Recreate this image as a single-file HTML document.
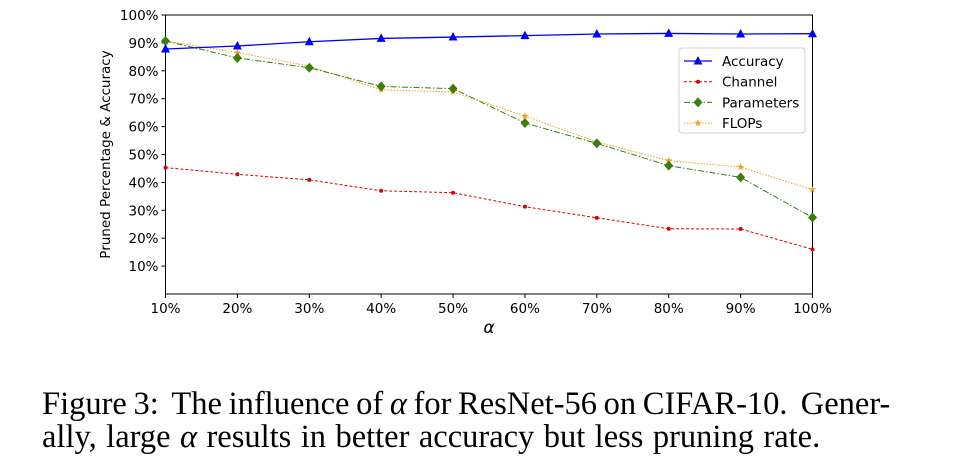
<!DOCTYPE html>
<html><head><meta charset="utf-8"><style>
body{margin:0;background:#fff;width:965px;height:459px;overflow:hidden}
svg{position:absolute;left:0;top:0}
.cap{position:absolute;left:42px;font-family:"Liberation Serif",serif;font-size:32.5px;color:#000;white-space:nowrap}
</style></head><body>
<svg id="chart" width="965" height="360" font-family="DejaVu Sans, Liberation Sans, sans-serif"></svg>
<div class="cap" style="top:386px;word-spacing:-1.5px">Figure 3:&nbsp; The influence of <i>α</i> for ResNet-56 on CIFAR-10.&nbsp; Gener-</div>
<div class="cap" style="top:419px;word-spacing:1.3px">ally, large <i>α</i> results in better accuracy but less pruning rate.</div>
<script>
const categories=["10%","20%","30%","40%","50%","60%","70%","80%","90%","100%"];
const accuracy=[87.8,88.9,90.4,91.6,92.1,92.6,93.2,93.4,93.2,93.3];
const channel=[45.3,42.9,40.9,37.0,36.3,31.3,27.3,23.4,23.3,16.0];
const parameters=[90.7,84.6,81.1,74.4,73.6,61.3,54.0,46.0,41.8,27.4];
const flops=[90.7,86.5,81.7,73.2,72.4,63.8,54.5,47.8,45.5,37.4];
const yTicks=[10,20,30,40,50,60,70,80,90,100];
const NS="http://www.w3.org/2000/svg";
const svg=document.getElementById('chart');
const L=165.5,R=812.5,T=15,B=294;
const x=i=>L+(R-L)*i/(categories.length-1);
const y=v=>B-(B-T)*v/100;
function mk(tag,attrs,parent){const e=document.createElementNS(NS,tag);for(const k in attrs)e.setAttribute(k,attrs[k]);(parent||svg).appendChild(e);return e;}
const frame=mk('rect',{x:L,y:T,width:R-L,height:B-T,fill:'none',stroke:'#000','stroke-width':1});


yTicks.forEach(v=>{
  const t=mk('line',{x1:L-4,x2:L,y1:y(v),y2:y(v),stroke:'#000'});
  
  
  const l=mk('text',{x:L-7,y:y(v)+5,'text-anchor':'end','font-size':13.5});
  l.textContent=v+'%';
  
  
});
categories.forEach((c,i)=>{
  const t=mk('line',{x1:x(i),x2:x(i),y1:B,y2:B+4,stroke:'#000'});
  
  
  const l=mk('text',{x:x(i),y:B+19,'text-anchor':'middle','font-size':13.5});
  l.textContent=c;
  
  
});
const yt=mk('text',{x:0,y:0,'text-anchor':'middle','font-size':13.5,transform:`translate(110,${(T+B)/2}) rotate(-90)`});
yt.textContent='Pruned Percentage & Accuracy';


const xt=mk('text',{x:(L+R)/2,y:333,'text-anchor':'middle','font-size':17,'font-style':'italic'});
xt.textContent='α';


function marker(type,cx,cy,color,g){
  if(type==='tri')return mk('polygon',{points:`${cx},${cy-5} ${cx-4.5},${cy+3.5} ${cx+4.5},${cy+3.5}`,fill:color},g);
  if(type==='dot')return mk('circle',{cx,cy,r:2,fill:color},g);
  if(type==='dia')return mk('polygon',{points:`${cx},${cy-5} ${cx+4.5},${cy} ${cx},${cy+5} ${cx-4.5},${cy}`,fill:color},g);
  const p=[];for(let k=0;k<10;k++){const r=k%2?1.6:3.8,a=-Math.PI/2+k*Math.PI/5;p.push((cx+r*Math.cos(a)).toFixed(1)+','+(cy+r*Math.sin(a)).toFixed(1));}
  return mk('polygon',{points:p.join(' '),fill:color},g);
}
const series=[
 {name:'Accuracy',data:accuracy,color:'#0000ff',dash:'',m:'tri',w:1.3},
 {name:'Channel',data:channel,color:'#e00000',dash:'3,2',m:'dot',w:1},
 {name:'Parameters',data:parameters,color:'#3a7d10',dash:'6,2,1.5,2',m:'dia',w:1},
 {name:'FLOPs',data:flops,color:'#f0a020',dash:'1.5,1.5',m:'star',w:1}
];
series.slice().reverse().forEach(s=>{
  const g=mk('g',{});
  
  
  mk('polyline',{points:s.data.map((v,i)=>x(i)+','+y(v)).join(' '),fill:'none',stroke:s.color,'stroke-width':s.w,'stroke-dasharray':s.dash},g);
  s.data.forEach((v,i)=>{const m=marker(s.m,x(i),y(v),s.color,g);
    
    });
});
const lg=mk('g',{});


mk('rect',{x:679,y:48,width:126,height:85,rx:3,fill:'#fff',stroke:'#d0d0d0'},lg);
series.forEach((s,k)=>{
  const yy=61+k*20.7;
  const e=mk('g',{},lg);
  
  
  mk('line',{x1:684,x2:712,y1:yy,y2:yy,stroke:s.color,'stroke-width':s.w,'stroke-dasharray':s.dash},e);
  marker(s.m,698,yy,s.color,e);
  const t=mk('text',{x:722,y:yy+5,'font-size':13.5},e);t.textContent=s.name;
});
</script>
</body></html>
